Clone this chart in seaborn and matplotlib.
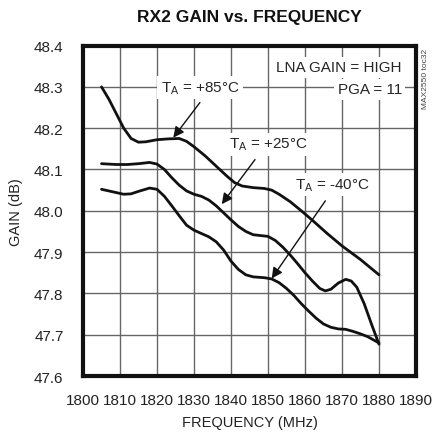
import matplotlib
matplotlib.use("Agg")
import matplotlib.pyplot as plt
from matplotlib import font_manager
import seaborn as sns
import pandas as pd

# ---- data ----
freq_85 = [1805, 1807, 1809, 1811, 1813, 1815, 1817, 1820, 1823, 1826, 1828, 1830, 1833, 1836, 1839, 1841,
           1843, 1846, 1849, 1851, 1853, 1856, 1859, 1862, 1866, 1870, 1875, 1880]
gain_85 = [48.300, 48.270, 48.235, 48.200, 48.175, 48.166, 48.167, 48.172, 48.174, 48.175, 48.168, 48.155,
           48.133, 48.108, 48.083, 48.068, 48.060, 48.056, 48.054, 48.050, 48.040, 48.022, 48.000, 47.977,
           47.945, 47.915, 47.882, 47.845]

freq_25 = [1805, 1809, 1812, 1815, 1818, 1820, 1822, 1824, 1826, 1828, 1830, 1832, 1834, 1836, 1838, 1840,
           1842, 1844, 1846, 1848, 1850, 1852, 1854, 1856, 1858, 1860, 1862, 1864, 1865.5, 1867, 1869, 1871,
           1872.5, 1874, 1876, 1878, 1880]
gain_25 = [48.114, 48.112, 48.112, 48.114, 48.117, 48.113, 48.100, 48.080, 48.062, 48.048, 48.040, 48.035,
           48.026, 48.012, 47.995, 47.978, 47.962, 47.950, 47.942, 47.940, 47.938, 47.928, 47.912, 47.893,
           47.872, 47.850, 47.830, 47.812, 47.806, 47.810, 47.825, 47.834, 47.830, 47.815, 47.775, 47.725,
           47.677]

freq_m40 = [1805, 1808, 1811, 1813, 1815, 1818, 1820, 1822, 1824, 1826, 1828, 1830, 1832, 1834, 1836, 1838,
            1840, 1842, 1844, 1846, 1849, 1851, 1853, 1855, 1857, 1859, 1861, 1863, 1865, 1867, 1869, 1871,
            1873, 1875, 1877, 1880]
gain_m40 = [48.052, 48.046, 48.040, 48.041, 48.047, 48.055, 48.052, 48.035, 48.012, 47.988, 47.965, 47.953,
            47.945, 47.937, 47.925, 47.905, 47.878, 47.858, 47.845, 47.840, 47.838, 47.835, 47.826, 47.812,
            47.795, 47.775, 47.757, 47.740, 47.726, 47.718, 47.714, 47.713, 47.708, 47.702, 47.695, 47.680]

series_names = ["+85", "+25", "-40"]
x_ticks = [1800, 1810, 1820, 1830, 1840, 1850, 1860, 1870, 1880, 1890]
y_ticks = [47.6, 47.7, 47.8, 47.9, 48.0, 48.1, 48.2, 48.3, 48.4]

df = pd.concat([
    pd.DataFrame({"freq": freq_85, "gain": gain_85, "temp": series_names[0]}),
    pd.DataFrame({"freq": freq_25, "gain": gain_25, "temp": series_names[1]}),
    pd.DataFrame({"freq": freq_m40, "gain": gain_m40, "temp": series_names[2]}),
])

sns.set_theme(style="white")
available = {f.name for f in font_manager.fontManager.ttflist}
narrow = "Liberation Sans Narrow" if "Liberation Sans Narrow" in available else "Liberation Sans"
plt.rcParams["font.family"] = [narrow, "DejaVu Sans"]
plt.rcParams["mathtext.fontset"] = "custom"
plt.rcParams["mathtext.rm"] = narrow
plt.rcParams["mathtext.it"] = narrow

fig = plt.figure(figsize=(4.33, 4.39), dpi=100)
ax = fig.add_axes([0.1917, 0.1412, 0.7690, 0.7528])

sns.lineplot(data=df, x="freq", y="gain", hue="temp", palette=["#111111"] * 3,
             estimator=None, sort=False, linewidth=2.0, legend=False, ax=ax)

ax.set_xlim(1800, 1890)
ax.set_ylim(47.6, 48.4)
ax.set_xticks(x_ticks)
ax.set_yticks(y_ticks)
ax.set_xticklabels([str(v) for v in x_ticks])
ax.set_yticklabels([f"{v:.1f}" for v in y_ticks])
ax.tick_params(axis="both", length=0, labelsize=11, colors="#222222")
ax.tick_params(axis="x", pad=12)
ax.tick_params(axis="y", pad=14)
ax.grid(True, color="#666666", linewidth=1.0)
ax.set_axisbelow(True)
for s in ax.spines.values():
    s.set_color("#111111")
    s.set_linewidth(3)

ax.set_xlabel("FREQUENCY (MHz)", fontsize=10.5, color="#222222", labelpad=6)
ax.set_ylabel("GAIN (dB)", fontsize=10.5, color="#222222", labelpad=8)
fig.text(0.577, 0.959, "RX2 GAIN vs. FREQUENCY", ha="center", va="center",
         fontsize=12.5, fontweight="bold", color="#111111")

box = dict(facecolor="white", edgecolor="none", pad=2.5)
arrow = dict(arrowstyle="-|>", color="#111111", lw=1.0, mutation_scale=16, shrinkA=0, shrinkB=0)

ax.text(1831.7, 48.298, r"$\mathregular{T_A}$ = +85°C", ha="center", va="center", fontsize=11, bbox=box, zorder=5)
ax.annotate("", xy=(1824.4, 48.177), xytext=(1831.6, 48.262), arrowprops=arrow, zorder=6)

ax.text(1850.1, 48.161, r"$\mathregular{T_A}$ = +25°C", ha="center", va="center", fontsize=11, bbox=box, zorder=5)
ax.annotate("", xy=(1837.5, 48.016), xytext=(1846.5, 48.124), arrowprops=arrow, zorder=6)

ax.text(1867.5, 48.064, r"$\mathregular{T_A}$ = -40°C", ha="center", va="center", fontsize=11, bbox=box, zorder=5)
ax.annotate("", xy=(1851.0, 47.836), xytext=(1865.5, 48.024), arrowprops=arrow, zorder=6)

ax.text(1886.2, 48.347, "LNA GAIN = HIGH", ha="right", va="center", fontsize=11, bbox=box, zorder=5)
ax.text(1886.2, 48.294, "PGA = 11", ha="right", va="center", fontsize=11, bbox=box, zorder=5)

fig.text(0.982, 0.82, "MAX2550 toc32", rotation=90, ha="center", va="center", fontsize=6, color="#444444")

fig.savefig("out.png", dpi=100)
